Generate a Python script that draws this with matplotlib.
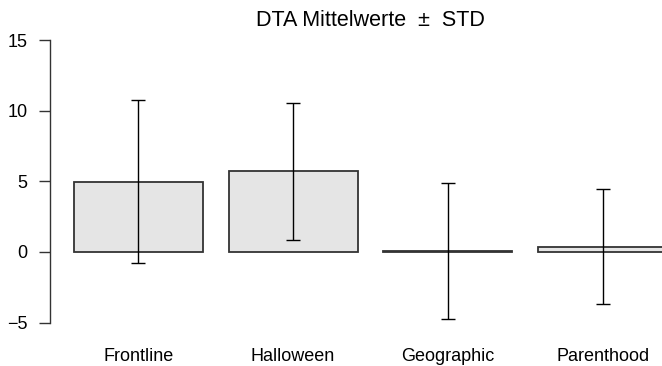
import matplotlib
matplotlib.use("Agg")
import matplotlib.pyplot as plt
import numpy as np

# Daten
categories = ["Frontline", "Halloween", "Geographic", "Parenthood"]
means = [4.97, 5.70, 0.08, 0.36]
stds = [5.75, 4.85, 4.80, 4.07]
yticks = [-5, 0, 5, 10, 15]

plt.rcParams['font.family'] = ['Liberation Sans', 'DejaVu Sans']

W, H = 662, 366
fig = plt.figure(figsize=(W / 100, H / 100), dpi=100)

# plot region wie bei R barplot (geht rechts über den Rand hinaus)
left, right, top, bottom = 50, 691, 28.7, 333.9
ax = fig.add_axes([left / W, (H - bottom) / H, (right - left) / W, (bottom - top) / H])

x = 0.7 + 1.2 * np.arange(len(categories))
ax.bar(x, means, width=1.0, color='#E5E5E5', edgecolor='#333333', linewidth=1.3, zorder=2)
ax.errorbar(x, means, yerr=stds, fmt='none', ecolor='black', elinewidth=1.0,
            capsize=5, capthick=1.0, zorder=3)

ax.set_xlim(0.016, 4.984)
ax.set_ylim(-5.8, 15.8)

for s in ['top', 'right', 'bottom']:
    ax.spines[s].set_visible(False)
ax.spines['left'].set_bounds(-5, 15)
ax.spines['left'].set_color('#333333')
ax.spines['left'].set_linewidth(1.0)

ax.set_yticks(yticks)
ax.set_yticklabels([str(t).replace('-', '\u2212') for t in yticks])
ax.tick_params(axis='y', length=8, width=1.0, color='#333333', pad=8, labelsize=13)
ax.set_xticks(x)
ax.set_xticklabels(categories)
ax.tick_params(axis='x', length=0, pad=10.5, labelsize=13)

fig.text(370 / W, (H - 26) / H, "DTA Mittelwerte  \u00b1  STD", ha='center', va='baseline',
         fontsize=15.5)

fig.savefig("out.png", dpi=100)
